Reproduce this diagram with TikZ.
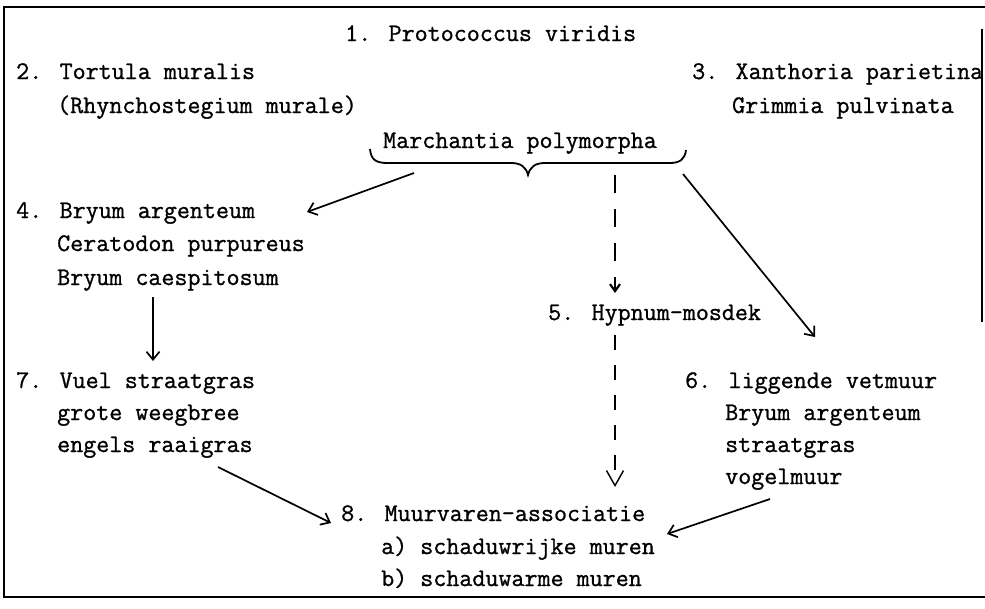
\documentclass[tikz,border=0pt]{standalone}
\usepackage{fontspec}
\newfontfamily\tw{Latin Modern Mono}[FakeBold=1]
\usetikzlibrary{arrows.meta}
\begin{document}
\begin{tikzpicture}[x=1pt,y=-1pt,
  txt/.style={anchor=base west, inner sep=0pt, font=\tw\fontsize{25.3}{30}\selectfont},
  arr/.style={line width=1.7pt, -{Straight Barb[length=8pt,width=13pt,line width=1.7pt]}},
  darr/.style={line width=1.7pt, dash pattern=on 18pt off 16pt, -{Straight Barb[length=7pt,width=10pt,line width=2.2pt]}},
  varr/.style={line width=1.4pt, dash pattern=on 15pt off 15pt, -{Straight Barb[length=15pt,width=17pt,line width=1.4pt]}},
  framel/.style={line width=1.8pt}]
\useasboundingbox (0,0) rectangle (985,608);
% frame
\draw[framel] (985,7) -- (4,7) -- (4,597) -- (985,597);
\draw[framel] (982,29) -- (982,322);
% texts
\node[txt] (n1) at (345,41) {1. Protococcus viridis};
\node[txt] (n2a) at (16,79) {2. Tortula muralis};
\node[txt] (n2b) at (57,113) {(Rhynchostegium murale)};
\node[txt] (n3a) at (692,79) {3. Xanthoria parietina};
\node[txt] (n3b) at (732,113) {Grimmia pulvinata};
\node[txt] (nm) at (383,148) {Marchantia polymorpha};
\node[txt] (n4a) at (16,218) {4. Bryum argenteum};
\node[txt] (n4b) at (57,251) {Ceratodon purpureus};
\node[txt] (n4c) at (57,285) {Bryum caespitosum};
\node[txt] (n5) at (548,320) {5. Hypnum-mosdek};
\node[txt] (n7a) at (16,388) {7. Vuel straatgras};
\node[txt] (n7b) at (57,420) {grote weegbree};
\node[txt] (n7c) at (57,452) {engels raaigras};
\node[txt] (n6a) at (685,388) {6. liggende vetmuur};
\node[txt] (n6b) at (725,420) {Bryum argenteum};
\node[txt] (n6c) at (725,452) {straatgras};
\node[txt] (n6d) at (725,484) {vogelmuur};
\node[txt] (n8a) at (341,521) {8. Muurvaren-associatie};
\node[txt] (n8b) at (381,554) {a) schaduwrijke muren};
\node[txt] (n8c) at (381,586) {b) schaduwarme muren};
% brace
\draw[line width=1.8pt] (370,149) .. controls (371,160) and (376,163) .. (388,163) -- (511,163)
  .. controls (521,163) and (526,167) .. (528,175) .. controls (530,167) and (535,163) .. (545,163)
  -- (670,163) .. controls (680,163) and (685,159) .. (686,150);
% connector anchors
\coordinate (bl) at (414,173);
\coordinate (bm) at (615,175);
\coordinate (br) at (683,174);
\coordinate (t4) at (307,212);
\coordinate (t5) at (615,293);
\coordinate (t6) at (815,337);
\coordinate (s4) at (153,297);
\coordinate (t7) at (153,361);
\coordinate (s5) at (615,335);
\coordinate (t8) at (615,487);
\coordinate (s7) at (218,467);
\coordinate (t8l) at (331,523);
\coordinate (s6) at (770,499);
\coordinate (t8r) at (667,534);
\draw[arr] (bl) -- (t4);
\draw[darr] (bm) -- (t5);
\draw[arr] (br) -- (t6);
\draw[arr] (s4) -- (t7);
\draw[varr] (s5) -- (t8);
\draw[arr] (s7) -- (t8l);
\draw[arr] (s6) -- (t8r);
\end{tikzpicture}
\end{document}
